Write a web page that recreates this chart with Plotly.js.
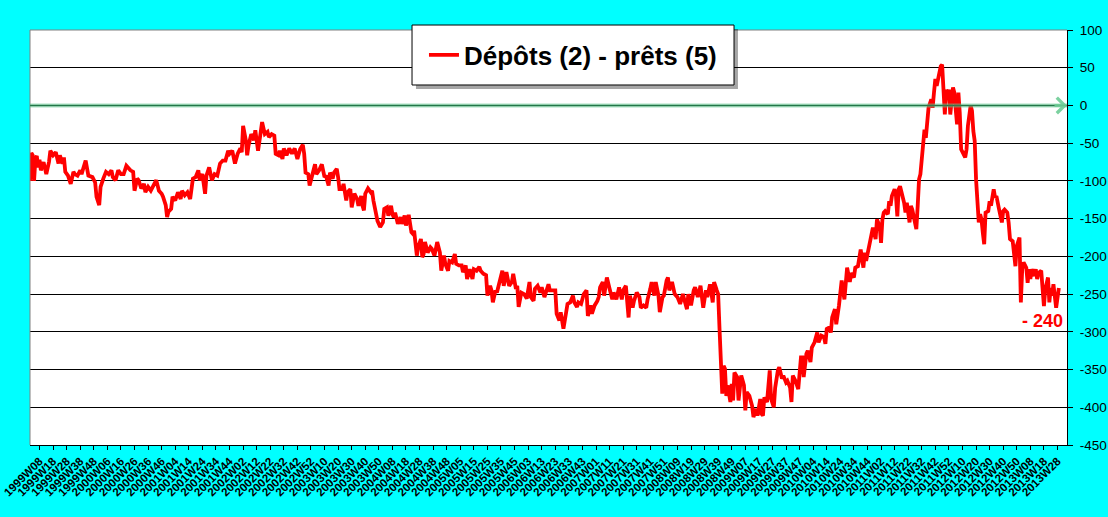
<!DOCTYPE html>
<html>
<head>
<meta charset="utf-8">
<script src="https://cdn.plot.ly/plotly-3.0.1.min.js"></script>
<style>
html,body{margin:0;padding:0;background:#00FFFF;}
#chart{width:1108px;height:517px;}
</style>
</head>
<body>
<div id="chart"></div>
<script>
// ---- Data (weekly index since 1999W01, value) ----
const seriesName = 'Dépôts (2) - prêts (5)';
const lastValueLabel = '- 240';

const weekIndex = [
0,1,2,3,4,5,6,7,8,9,10,12,14,15,17,19,21,22,24,25,26,28,30,32,33,35,37,38,39,41,43,46,48,49,51,52,54,56,58,60,61,63,65,67,69,71,74,76,77,79,80,82,84,85,87,89,91,93,95,97,98,100,101,102,104,105,107,109,111,112,114,116,118,119,120,122,124,125,127,129,130,132,134,136,138,140,142,144,146,147,149,151,153,155,156,157,159,160,161,163,165,166,168,170,171,173,175,176,178,180,181,183,184,186,187,189,191,193,195,197,
199,201,202,203,205,206,208,210,211,213,215,217,218,220,221,223,224,226,227,228,230,231,233,234,236,237,239,241,242,244,245,246,247,249,251,252,253,255,256,258,260,261,263,264,266,267,268,269,271,273,274,276,277,279,281,282,283,285,286,288,289,290,291,293,295,296,298,300,302,303,305,306,308,309,311,313,314,316,318,319,321,322,324,326,327,329,331,332,334,336,337,339,340,341,343,344,346,348,349,351,353,355,356,358,359,360,362,364,366,367,368,369,371,372,374,376,377,379,382,383,385,387,388,390,391,392,393,395,396,398,400,401,403,404,
406,408,410,411,413,414,416,418,419,420,422,423,425,427,429,430,432,434,436,437,439,441,442,444,445,447,449,450,452,454,455,457,458,460,461,463,464,466,467,469,470,471,473,475,477,479,481,482,484,485,487,489,490,492,494,496,498,499,501,503,504,506,507,508,509,510,511,512,513,514,516,517,518,519,521,522,524,526,527,528,530,532,533,535,536,538,539,540,541,543,545,546,548,549,551,552,554,555,557,558,560,561,562,564,566,568,569,570,572,573,575,576,578,580,581,583,585,586,587,589,590,591,593,594,596,597,598,600,601,602,604,
605,607,608,610,611,612,614,615,616,618,619,621,622,623,624,626,627,628,629,630,632,633,634,635,637,638,639,640,641,643,644,645,646,648,649,650,651,653,654,655,656,657,659,660,661,662,664,665,666,667,668,670,671,672,673,674,675,676,677,678,680,681,682,683,684,685,686,688,689,690,691,693,694,695,696,697,699,700,701,702,703,704,706,707,708,710,711,712,713,714,716,717,718,720,721,722,724,725,726,727,729,730,731,732,734,735,736,737,738,740,741,742,743,745,746,747,748,750,751,752,753,754,756,757,758
];

const values = [
-100,-63,-66,-100,-70,-67,-82,-72,-86,-78,-75,-91,-75,-60,-66,-62,-77,-66,-77,-69,-88,-93,-104,-88,-91,-93,-86,-91,-86,-73,-93,-95,-102,-121,-132,-108,-97,-88,-91,-86,-95,-99,-86,-91,-91,-80,-86,-88,-113,-97,-99,-110,-104,-115,-108,-113,-106,-99,-113,-117,-121,-132,-148,-141,-137,-121,-126,-115,-124,-113,-119,-115,-124,-110,-97,-95,-86,-99,-91,-117,-93,-82,-99,-91,-93,-77,-73,-73,-60,-64,-60,-77,-64,-57,-62,-27,-46,-66,-53,-38,-46,-33,-60,-35,-22,-38,-35,-42,-38,-40,-64,-66,-60,-71,-57,-66,-57,-64,-57,-71,
-58,-52,-64,-89,-91,-106,-93,-78,-91,-86,-78,-95,-93,-106,-89,-97,-89,-84,-95,-111,-111,-104,-126,-115,-111,-135,-117,-124,-133,-120,-133,-139,-117,-110,-115,-113,-126,-148,-153,-161,-155,-137,-135,-146,-133,-144,-148,-142,-157,-148,-157,-146,-159,-145,-168,-170,-166,-199,-188,-177,-201,-197,-181,-195,-188,-190,-199,-181,-195,-219,-199,-210,-219,-206,-208,-197,-210,-212,-212,-221,-212,-230,-217,-230,-217,-219,-214,-219,-223,-225,-252,-239,-245,-261,-245,-248,-234,-219,-239,-221,-239,-234,-223,-243,-239,-267,-248,-250,-256,-245,-234,-254,-259,-243,-239,-248,-241,-254,-237,-245,-245,-245,-276,-285,-274,-283,-296,-274,-263,-261,-252,-261,-267,-261,
-263,-250,-245,-279,-265,-276,-265,-259,-254,-241,-234,-252,-228,-243,-257,-248,-257,-241,-257,-245,-239,-281,-252,-268,-259,-248,-254,-268,-265,-268,-257,-243,-234,-252,-234,-252,-274,-254,-252,-232,-228,-245,-234,-250,-254,-263,-250,-257,-270,-250,-265,-245,-241,-254,-239,-268,-245,-254,-237,-261,-234,-245,-250,-296,-340,-382,-345,-349,-385,-371,-393,-369,-391,-354,-360,-391,-358,-371,-404,-380,-385,-398,-413,-402,-411,-389,-409,-411,-387,-393,-351,-389,-400,-374,-351,-347,-362,-358,-367,-365,-374,-393,-358,-365,-376,-334,-334,-360,-329,-325,-340,-321,-314,-301,-314,-305,-307,-316,-296,-294,-301,-281,-270,-290,-265,-248,-232,-257,-237,-215,-234,
-222,-228,-215,-213,-200,-191,-215,-195,-206,-186,-182,-162,-169,-177,-151,-160,-182,-151,-142,-140,-144,-127,-133,-120,-111,-120,-147,-111,-107,-120,-129,-142,-129,-155,-133,-138,-147,-164,-133,-98,-91,-71,-32,-43,-25,-3,8,-3,17,35,26,46,52,54,21,-12,21,8,21,-12,24,17,-5,-25,17,-10,-58,-65,-69,-58,-27,0,-7,-34,-47,-98,-155,-144,-151,-169,-184,-142,-140,-127,-133,-111,-122,-120,-127,-138,-155,-140,-138,-142,-155,-177,-180,-195,-213,-186,-175,-261,-217,-208,-215,-235,-217,-230,-217,-226,-217,-230,-222,-219,-248,-266,-244,-228,-261,-242,-252,-237,-268,-248,-242
];

const tickLabels = [
'1999W08','1999W18','1999W28','1999W38','1999W48',
'2000W06','2000W16','2000W26','2000W36','2000W46',
'2001W04','2001W14','2001W24','2001W34','2001W44',
'2002W02','2002W12','2002W22','2002W32','2002W42','2002W52',
'2003W10','2003W20','2003W30','2003W40','2003W50',
'2004W08','2004W18','2004W28','2004W38','2004W48',
'2005W05','2005W15','2005W25','2005W35','2005W45',
'2006W03','2006W13','2006W23','2006W33','2006W43',
'2007W01','2007W11','2007W21','2007W31','2007W41','2007W51',
'2008W09','2008W19','2008W29','2008W39','2008W49',
'2009W07','2009W17','2009W27','2009W37','2009W47',
'2010W04','2010W14','2010W24','2010W34','2010W44',
'2011W02','2011W12','2011W22','2011W32','2011W42','2011W52',
'2012W10','2012W20','2012W30','2012W40','2012W50',
'2013W08','2013W18','2013W28'
];
const firstTickIndex = 7;   // 1999W08
const tickStep = 10;        // one label every 10 weeks
const totalWeeks = 764;

const yTickValues = [100,50,0,-50,-100,-150,-200,-250,-300,-350,-400,-450];
const yTickLabels = ['100','50','0','-50','-100','-150','-200','-250','-300','-350','-400','-450'];
const referenceLevel = 0;

// ---- Chart ----
const tickVals = tickLabels.map((_, i) => firstTickIndex + i * tickStep);

const trace = {
  x: weekIndex,
  y: values,
  type: 'scatter',
  mode: 'lines',
  name: seriesName,
  line: {color: '#FF0000', width: 3.8},
  hoverinfo: 'skip'
};

const layout = {
  width: 1108,
  height: 517,
  margin: {l: 30, r: 41, t: 30, b: 72, pad: 0},
  paper_bgcolor: '#00FFFF',
  plot_bgcolor: '#FFFFFF',
  font: {family: 'Arial, "Liberation Sans", sans-serif', color: '#000000'},
  showlegend: true,
  legend: {
    x: 0.5236, y: 0.9398, xanchor: 'center', yanchor: 'middle',
    bgcolor: 'rgba(0,0,0,0)', borderwidth: 0,
    font: {size: 26, weight: 'bold', color: '#000000'}
  },
  xaxis: {
    range: [0, totalWeeks],
    tickmode: 'array',
    tickvals: tickVals,
    ticktext: tickLabels,
    tickangle: -45,
    tickfont: {size: 11.5, weight: 'bold', color: '#000000'},
    ticks: 'outside', ticklen: 4, tickcolor: '#000000', tickwidth: 1,
    showline: true, linecolor: '#000000', linewidth: 1,
    showgrid: false, zeroline: false, fixedrange: true
  },
  yaxis: {
    range: [-450, 100],
    side: 'right',
    tickmode: 'array',
    tickvals: yTickValues,
    ticktext: yTickLabels,
    tickfont: {size: 13.5, color: '#000000'},
    ticks: 'outside', ticklen: 5, tickcolor: '#000000', tickwidth: 1,
    ticklabelstandoff: 4,
    showline: true, linecolor: '#000000', linewidth: 1,
    showgrid: true, gridcolor: '#000000', gridwidth: 1,
    zeroline: false, fixedrange: true
  },
  shapes: [
    // top & left plot border (gray)
    {type: 'line', xref: 'paper', yref: 'paper', x0: 0, x1: 1, y0: 1, y1: 1, line: {color: '#808080', width: 1}, layer: 'above'},
    {type: 'line', xref: 'paper', yref: 'paper', x0: 0, x1: 0, y0: 0, y1: 1, line: {color: '#808080', width: 1}, layer: 'above'},
    // green reference line at 0
    {type: 'line', xref: 'paper', yref: 'y', x0: 0, x1: 1, y0: referenceLevel, y1: referenceLevel, line: {color: 'rgba(100,200,145,0.55)', width: 4}, layer: 'above'},
    {type: 'line', xref: 'paper', yref: 'y', x0: 0, x1: 1, y0: referenceLevel, y1: referenceLevel, line: {color: 'rgba(30,120,70,0.8)', width: 1.5}, layer: 'above'},
    // legend shadow and box
    {type: 'rect', xref: 'paper', yref: 'paper', x0: 0.3722, x1: 0.6827, y0: 0.8578, y1: 1.0024, fillcolor: 'rgba(0,0,0,0.35)', line: {width: 0}, layer: 'above'},
    {type: 'rect', xref: 'paper', yref: 'paper', x0: 0.3684, x1: 0.6789, y0: 0.8675, y1: 1.012, fillcolor: '#FFFFFF', line: {color: '#000000', width: 1}, layer: 'above'}
  ],
  annotations: [
    // arrow head at the end of the green line
    {xref: 'paper', yref: 'y', x: 1.0, y: referenceLevel, axref: 'pixel', ayref: 'pixel', ax: -14, ay: 0,
     text: '', showarrow: true, arrowhead: 4, arrowsize: 1, arrowwidth: 3,
     arrowcolor: 'rgba(110,205,150,0.9)'},
    // last value label
    {xref: 'x', yref: 'y', x: 746, y: -285, text: '<b>' + lastValueLabel + '</b>', showarrow: false,
     font: {size: 18, color: '#FF0000', family: 'Arial, "Liberation Sans", sans-serif'}}
  ]
};

Plotly.newPlot('chart', [trace], layout, {displayModeBar: false, staticPlot: true});
</script>
</body>
</html>
